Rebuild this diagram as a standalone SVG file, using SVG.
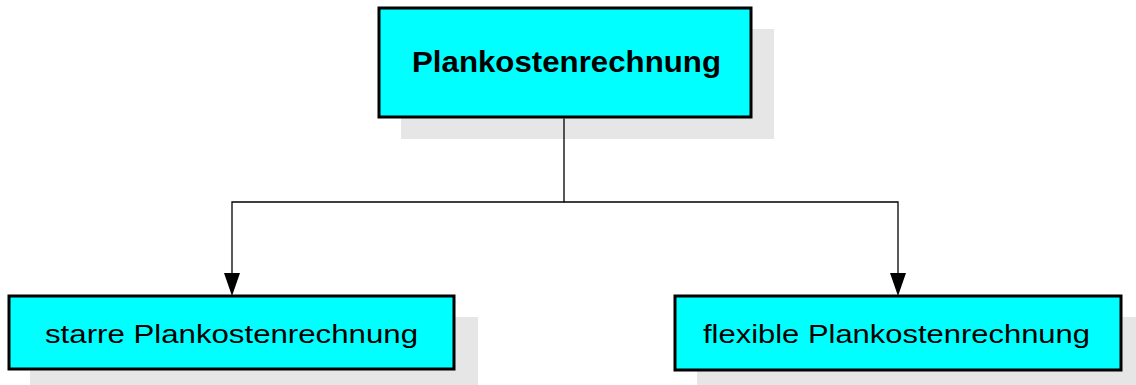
<svg xmlns="http://www.w3.org/2000/svg" width="1136" height="385" viewBox="0 0 1136 385">
<style>
.shadow{fill:#e6e6e6}
.box{fill:#00ffff;stroke:#000;stroke-width:3}
.t{font-family:"Liberation Sans",Arial,sans-serif;fill:#000;text-anchor:middle}
.conn{fill:none;stroke:#000;stroke-width:1.3}
.head{fill:#000}
</style>
<g id="node-top">
<rect class="shadow" x="401" y="29" width="373" height="110"/>
<rect class="box" x="379" y="8" width="372" height="109"/>
<text class="t" x="566.5" y="72" font-size="30" font-weight="bold" textLength="309" lengthAdjust="spacingAndGlyphs">Plankostenrechnung</text>
</g>
<g id="node-starre">
<rect class="shadow" x="30" y="317" width="448" height="70"/>
<rect class="box" x="9" y="296" width="445" height="73"/>
<text class="t" x="231.5" y="343" font-size="25" textLength="373" lengthAdjust="spacingAndGlyphs">starre Plankostenrechnung</text>
</g>
<g id="node-flexible">
<rect class="shadow" x="697" y="317" width="445" height="70"/>
<rect class="box" x="675" y="296" width="446" height="74"/>
<text class="t" x="896.5" y="343" font-size="25" textLength="387" lengthAdjust="spacingAndGlyphs">flexible Plankostenrechnung</text>
</g>
<g id="connectors">
<path class="conn" d="M564,118.5 V202 H232 V273"/>
<path class="head" d="M224,273 L240,273 L232,296 Z"/>
<path class="conn" d="M564,202 H898 V273"/>
<path class="head" d="M890,273 L906,273 L898,296 Z"/>
</g>
</svg>
